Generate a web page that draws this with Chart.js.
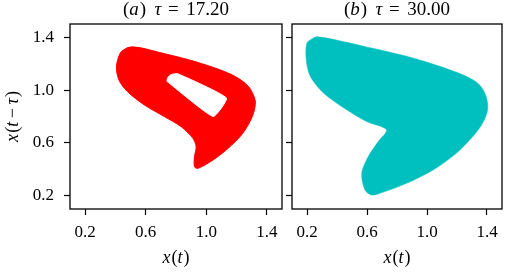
<!DOCTYPE html>
<html>
<head>
<meta charset="utf-8">
<script src="https://cdn.jsdelivr.net/npm/chart.js@4/dist/chart.umd.min.js"></script>
<style>
  html, body { margin: 0; padding: 0; background: #fff; }
  #wrap { position: relative; width: 510px; height: 274px; }
  .panel { position: absolute; top: 0; height: 274px; }
  #panelA { left: 0; width: 286px; }
  #panelB { left: 286px; width: 224px; }
</style>
</head>
<body>
<div id="wrap">
  <div class="panel" id="panelA"><canvas id="chartA"></canvas></div>
  <div class="panel" id="panelB"><canvas id="chartB"></canvas></div>
</div>
<script>
// (a) tau = 17.20 : outer edge of the attractor band and the hole inside it
const outerAX = [0.511, 0.567, 0.700, 0.878, 1.055, 1.189, 1.278, 1.322, 1.318, 1.289, 1.233, 1.145, 1.045, 0.945, 0.922, 0.922, 0.933, 0.911, 0.833, 0.722, 0.589, 0.478, 0.422, 0.407, 0.433, 0.478, 0.511];
const outerAY = [1.327, 1.320, 1.282, 1.231, 1.168, 1.104, 1.028, 0.927, 0.851, 0.762, 0.661, 0.560, 0.471, 0.408, 0.420, 0.496, 0.572, 0.636, 0.724, 0.800, 0.889, 0.990, 1.079, 1.180, 1.282, 1.320, 1.327];
const holeAX = [0.740, 0.745, 0.767, 0.811, 1.133, 1.045, 0.740];
const holeAY = [1.066, 1.094, 1.117, 1.124, 0.940, 0.800, 1.066];

// (b) tau = 30.00 : outline of the dense trajectory cloud
const outerBX = [0.244, 0.200, 0.195, 0.222, 0.310, 0.465, 0.598, 0.730, 0.675, 0.608, 0.565, 0.587, 0.631, 0.686, 0.863, 1.040, 1.195, 1.305, 1.371, 1.404, 1.394, 1.349, 1.261, 1.084, 0.863, 0.575, 0.355, 0.266, 0.244];
const outerBY = [1.395, 1.357, 1.231, 1.104, 0.978, 0.851, 0.762, 0.699, 0.610, 0.496, 0.370, 0.244, 0.206, 0.219, 0.294, 0.395, 0.522, 0.648, 0.750, 0.851, 0.952, 1.041, 1.104, 1.180, 1.256, 1.332, 1.388, 1.403, 1.395];

const xTicks = [0.2, 0.6, 1.0, 1.4];
const yTicks = [0.2, 0.6, 1.0, 1.4];
const axisMin = 0.1;
const axisMax = 1.5;

const SERIF = '"Liberation Serif", "DejaVu Serif", serif';

function toPoints(xs, ys) {
    return xs.map((x, i) => ({ x: x, y: ys[i] }));
}

// draws text where some pieces are italic (math variables);
// a plain number in the list is an extra gap in em
function drawRich(ctx, parts, cx, cy, size, rotate) {
    ctx.save();
    ctx.translate(cx, cy);
    if (rotate) ctx.rotate(-Math.PI / 2);
    ctx.fillStyle = '#000';
    ctx.textBaseline = 'middle';
    ctx.textAlign = 'left';
    const width = (p) => {
        if (typeof p === 'number') return p * size;
        ctx.font = (p[1] ? 'italic ' : '') + size + 'px ' + SERIF;
        return ctx.measureText(p[0]).width;
    };
    let total = 0;
    parts.forEach((p) => {
        total += width(p);
    });
    let x = -total / 2;
    parts.forEach((p) => {
        const w = width(p);
        if (typeof p !== 'number') ctx.fillText(p[0], x, 0);
        x += w;
    });
    ctx.restore();
}

function labelsPlugin(title, showYTitle) {
    return {
        id: 'labels',
        afterDraw(chart) {
            const ctx = chart.ctx;
            const a = chart.chartArea;
            ctx.save();
            ctx.strokeStyle = '#000';
            ctx.lineWidth = 1.3;
            ctx.strokeRect(a.left, a.top, a.right - a.left, a.bottom - a.top);
            ctx.restore();
            const cx = (a.left + a.right) / 2;
            drawRich(ctx, title, cx, 10, 19, false);
            drawRich(ctx, [['x', true], 0.06, ['(', false], ['t', true], 0.06, [')', false]], cx, 258, 18, false);
            if (showYTitle) {
                drawRich(ctx, [['x', true], 0.06, ['(', false], ['t', true], 0.2, ['\u2212', false], 0.2, ['\u03c4', true], 0.05, [')', false]],
                    13, (a.top + a.bottom) / 2, 18, true);
            }
        },
    };
}

function makeOptions(yWidth, rightPad, showYLabels) {
    return {
        responsive: true,
        maintainAspectRatio: false,
        animation: false,
        events: [],
        layout: { padding: { top: 24, right: rightPad, bottom: 0, left: 0 } },
        plugins: { legend: { display: false }, tooltip: { enabled: false } },
        elements: { point: { radius: 0 } },
        scales: {
            x: {
                type: 'linear',
                min: axisMin,
                max: axisMax,
                afterBuildTicks(scale) {
                    scale.ticks = xTicks.map((v) => ({ value: v }));
                },
                afterFit(scale) {
                    scale.height = 65;
                },
                grid: { drawOnChartArea: false, drawTicks: true, tickLength: 6, color: '#000', tickWidth: 1.2 },
                border: { display: false },
                ticks: {
                    color: '#000',
                    padding: 7,
                    maxRotation: 0,
                    font: { family: SERIF, size: 17 },
                    callback(value) {
                        return Number(value).toFixed(1);
                    },
                },
            },
            y: {
                type: 'linear',
                min: axisMin,
                max: axisMax,
                afterBuildTicks(scale) {
                    scale.ticks = yTicks.map((v) => ({ value: v }));
                },
                afterFit(scale) {
                    scale.width = yWidth;
                },
                grid: { drawOnChartArea: false, drawTicks: true, tickLength: 6, color: '#000', tickWidth: 1.2 },
                border: { display: false },
                ticks: {
                    display: showYLabels,
                    color: '#000',
                    padding: 10,
                    font: { family: SERIF, size: 17 },
                    callback(value) {
                        return Number(value).toFixed(1);
                    },
                },
            },
        },
    };
}

new Chart(document.getElementById('chartA'), {
    type: 'line',
    data: {
        datasets: [
            {
                label: 'hole',
                data: toPoints(holeAX, holeAY),
                borderColor: '#ffffff',
                backgroundColor: '#ffffff',
                borderWidth: 1,
                fill: 'shape',
                tension: 0.15,
                order: 0,
            },
            {
                label: 'tau 17.20',
                data: toPoints(outerAX, outerAY),
                borderColor: '#ff0000',
                backgroundColor: '#ff0000',
                borderWidth: 1,
                fill: 'shape',
                tension: 0.3,
                order: 1,
            },
        ],
    },
    options: makeOptions(70, 4, true),
    plugins: [labelsPlugin([['(', false], ['a', true], 0.05, [')', false], 0.45, ['\u03c4', true], 0.35, ['=', false], 0.4, ['17.20', false]], true)],
});

new Chart(document.getElementById('chartB'), {
    type: 'line',
    data: {
        datasets: [
            {
                label: 'tau 30.00',
                data: toPoints(outerBX, outerBY),
                borderColor: 'rgba(0,191,191,0.55)',
                backgroundColor: '#00bfbf',
                borderWidth: 1,
                fill: 'shape',
                tension: 0.3,
            },
        ],
    },
    options: makeOptions(6, 8, false),
    plugins: [labelsPlugin([['(', false], ['b', true], 0.05, [')', false], 0.45, ['\u03c4', true], 0.35, ['=', false], 0.4, ['30.00', false]], false)],
});
</script>
</body>
</html>
